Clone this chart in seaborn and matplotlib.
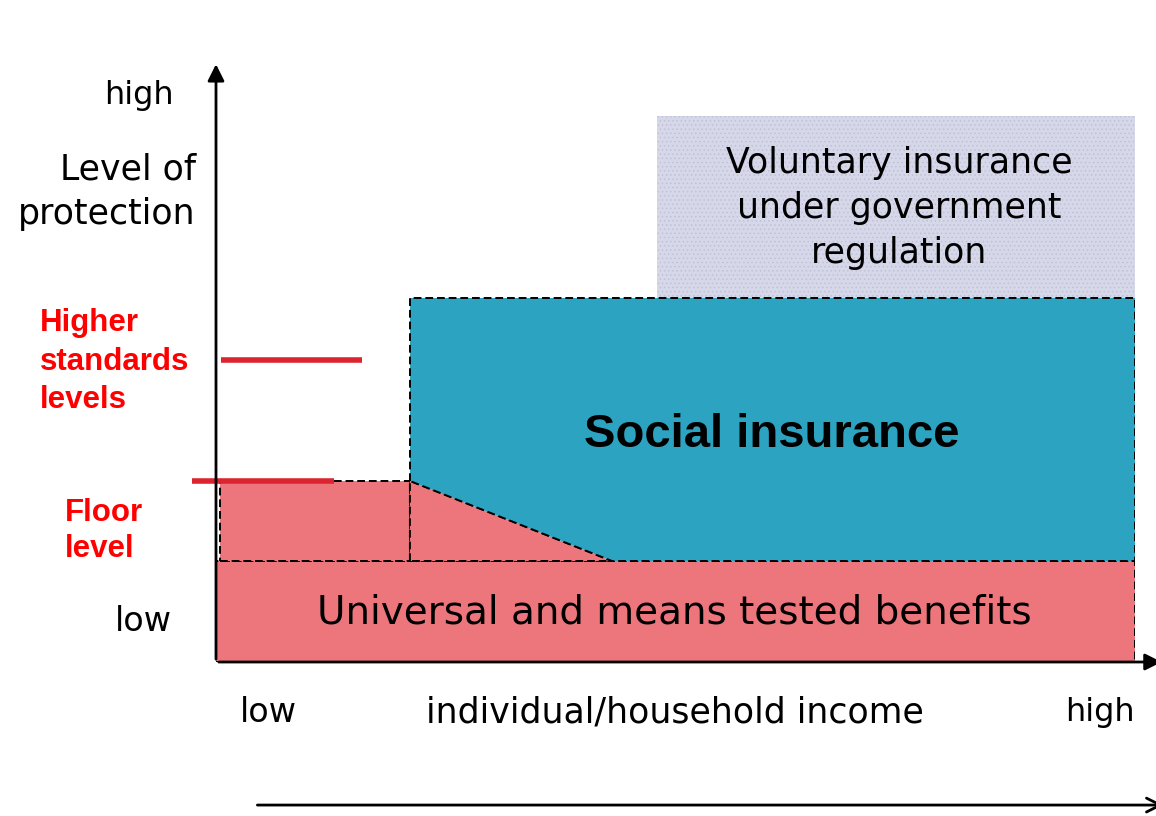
import matplotlib.pyplot as plt
import matplotlib.patches as mpatches
import seaborn as sns

# Region boundaries on a 0-100 income / 0-100 protection scale
universal_top = 18.5
floor_level = 33.2
higher_level = 55.3
social_top = 66.7
voluntary_top = 100.0
floor_box_x = [0.4, 21.1]
taper_end_x = 43.1
voluntary_x = [48.0, 100.0]
income_max = 100.0
higher_line_x = [0.5, 15.9]
floor_line_x = [-2.6, 12.8]

y_tick_labels = ["low", "high"]
x_tick_labels = ["low", "individual/household income", "high"]
region_labels = ["Universal and means tested benefits", "Social insurance",
                 "Voluntary insurance\nunder government\nregulation"]
level_labels = ["Higher\nstandards\nlevels", "Floor\nlevel"]

pink = "#ec767c"
teal = "#2ca3c0"
lavender = "#d6d8ea"
red = "#dc2430"

sns.set_theme(style="white")
plt.rcParams["font.family"] = ["DejaVu Sans"]
plt.rcParams["hatch.linewidth"] = 0.6

fig = plt.figure(figsize=(11.56, 8.16), dpi=100)
ax = fig.add_axes([216 / 1156, 154 / 816, 919 / 1156, 546 / 816])
ax.set_xlim(0, 100)
ax.set_ylim(0, 100)
ax.axis("off")

dash = dict(edgecolor="black", linestyle=(0, (4, 2)), linewidth=1.4)

# Voluntary insurance (dotted light fill)
ax.add_patch(mpatches.Rectangle((voluntary_x[0], social_top), voluntary_x[1] - voluntary_x[0],
                                voluntary_top - social_top, facecolor=lavender,
                                edgecolor="#bfc1d6", linewidth=0, hatch="....", zorder=1))

# Universal benefits
ax.add_patch(mpatches.Rectangle((0, 0), income_max, universal_top, facecolor=pink, zorder=2, **dash))

# Floor box
ax.add_patch(mpatches.Rectangle((floor_box_x[0], universal_top), floor_box_x[1] - floor_box_x[0],
                                floor_level - universal_top, facecolor=pink, zorder=2, **dash))

# Taper triangle
ax.add_patch(mpatches.Polygon([(floor_box_x[1], universal_top), (floor_box_x[1], floor_level),
                               (taper_end_x, universal_top)], closed=True,
                              facecolor=pink, zorder=2, **dash))

# Social insurance
ax.add_patch(mpatches.Polygon([(floor_box_x[1], floor_level), (floor_box_x[1], social_top),
                               (income_max, social_top), (income_max, universal_top),
                               (taper_end_x, universal_top)], closed=True,
                              facecolor=teal, zorder=2, **dash))

# Red level markers
sns.lineplot(x=higher_line_x, y=[higher_level] * 2, color=red, linewidth=4, ax=ax)
ax.plot(floor_line_x, [floor_level] * 2, color=red, linewidth=4, zorder=3)
for ln in ax.lines:
    ln.set_clip_on(False)
    ln.set_solid_capstyle("butt")

# Axes arrows
ax.annotate("", xy=(0, 110), xytext=(0, 0),
            arrowprops=dict(arrowstyle="-|>", color="black", lw=2, mutation_scale=25),
            annotation_clip=False, zorder=5)
ax.annotate("", xy=(103.2, 0), xytext=(0, 0),
            arrowprops=dict(arrowstyle="-|>", color="black", lw=2, mutation_scale=25),
            annotation_clip=False, zorder=5)
ax.annotate("", xy=(103.4, -26.2), xytext=(4.2, -26.2),
            arrowprops=dict(arrowstyle="->", color="black", lw=2, mutation_scale=25),
            annotation_clip=False, zorder=5)

# Axis texts
ax.text(-8.4, 103.8, y_tick_labels[1], fontsize=23, ha="center", va="center", color="black")
ax.text(-2.2, 86.1, "Level of\nprotection", fontsize=25, ha="right", va="center",
        multialignment="right", linespacing=1.4, color="black")
ax.text(-7.9, 7.5, y_tick_labels[0], fontsize=24, ha="center", va="center", color="black")
ax.text(5.7, -9.2, x_tick_labels[0], fontsize=24, ha="center", va="center", color="black")
ax.text(49.9, -9.2, x_tick_labels[1], fontsize=25, ha="center", va="center", color="black")
ax.text(96.2, -9.2, x_tick_labels[2], fontsize=23, ha="center", va="center", color="black")

# Region texts
ax.text(49.9, 9.0, region_labels[0], fontsize=28, ha="center", va="center", color="black", zorder=6)
ax.text(60.5, 41.6, region_labels[1], fontsize=34, fontweight="bold", ha="center", va="center",
        family="Liberation Sans", color="black", zorder=6)
ax.text(74.3, 83.2, region_labels[2], fontsize=25, ha="center", va="center",
        linespacing=1.4, color="black", zorder=6)

# Level texts
ax.text(-19.2, 55.0, level_labels[0], fontsize=22.5, fontweight="bold", ha="left", va="center",
        family="Liberation Sans", color="#ff0000", linespacing=1.38)
ax.text(-16.4, 24.0, level_labels[1], fontsize=22.5, fontweight="bold", ha="left", va="center",
        family="Liberation Sans", color="#ff0000", linespacing=1.3)

fig.savefig("out.png", dpi=100)
